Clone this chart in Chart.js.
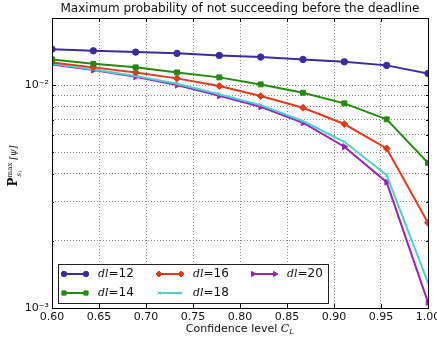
<!DOCTYPE html>
<html>
<head>
<meta charset="utf-8">
<script src="https://cdn.jsdelivr.net/npm/chart.js@4/dist/chart.umd.min.js"></script>
<style>
  html, body { margin: 0; padding: 0; background: #fff; }
  canvas { display: block; }
</style>
</head>
<body>
<canvas id="canvas" width="437" height="338"></canvas>
<script>
const confidenceLevels = [0.600, 0.644, 0.689, 0.733, 0.778, 0.822, 0.867, 0.911, 0.956, 1.000];
const dl12 = [0.01450, 0.01425, 0.01406, 0.01388, 0.01359, 0.01336, 0.01304, 0.01272, 0.01226, 0.01128];
const dl14 = [0.01304, 0.01246, 0.01201, 0.01140, 0.01083, 0.01007, 0.00924, 0.00828, 0.00702, 0.00448];
const dl16 = [0.01264, 0.01201, 0.01140, 0.01072, 0.00990, 0.00893, 0.00791, 0.00669, 0.00520, 0.00241];
const dl18 = [0.01246, 0.01176, 0.01098, 0.01013, 0.00909, 0.00813, 0.00690, 0.00557, 0.00395, 0.00130];
const dl20 = [0.01238, 0.01168, 0.01090, 0.01000, 0.00896, 0.00799, 0.00678, 0.00529, 0.00367, 0.00106];
const seriesNames = ['12', '14', '16', '18', '20'];
const xTicks = [0.60, 0.65, 0.70, 0.75, 0.80, 0.85, 0.90, 0.95, 1.00];
const yTicks = [0.001, 0.002, 0.003, 0.004, 0.005, 0.006, 0.007, 0.008, 0.009, 0.01, 0.02];
const yLabels = { 0.001: '10⁻³', 0.01: '10⁻²' };

const FONT = 'DejaVu Sans, sans-serif';
const styles = [
  { color: '#3b2c9e', pointStyle: 'circle', radius: 3.2, rotation: 0 },
  { color: '#248a10', pointStyle: 'rect', radius: 3.5, rotation: 0 },
  { color: '#e23a1c', pointStyle: 'rectRot', radius: 3.5, rotation: 0 },
  { color: '#4dd0d0', pointStyle: 'crossRot', radius: 2.5, rotation: 0 },
  { color: '#9c22b4', pointStyle: 'triangle', radius: 3.5, rotation: 90 }
];
const allSeries = [dl12, dl14, dl16, dl18, dl20];

const datasets = allSeries.map((vals, i) => ({
  label: 'dl=' + seriesNames[i],
  data: vals.map((v, k) => ({ x: confidenceLevels[k], y: v })),
  borderColor: styles[i].color,
  backgroundColor: styles[i].color,
  borderWidth: 2,
  pointStyle: styles[i].pointStyle,
  pointRadius: styles[i].radius,
  pointRotation: styles[i].rotation,
  pointBorderWidth: 1,
  tension: 0
}));

function drawMarker(ctx, st, x, y) {
  Chart.helpers.drawPoint(ctx, {
    pointStyle: st.pointStyle, radius: st.radius - 0.5, rotation: st.rotation, borderWidth: 1
  }, x, y);
}

const framePlugin = {
  id: 'frame',
  afterDraw(chart) {
    const { ctx, chartArea: a, scales } = chart;
    ctx.save();
    // inward tick marks
    ctx.strokeStyle = '#000';
    ctx.lineWidth = 1;
    ctx.beginPath();
    xTicks.forEach(t => {
      const px = Math.round(scales.x.getPixelForValue(t)) + 0.5;
      ctx.moveTo(px, a.bottom); ctx.lineTo(px, a.bottom - 4);
      ctx.moveTo(px, a.top); ctx.lineTo(px, a.top + 4);
    });
    yTicks.forEach(t => {
      const py = Math.round(scales.y.getPixelForValue(t)) + 0.5;
      const len = yLabels[t] ? 4 : 2;
      ctx.moveTo(a.left, py); ctx.lineTo(a.left + len, py);
      ctx.moveTo(a.right, py); ctx.lineTo(a.right - len, py);
    });
    ctx.stroke();
    ctx.strokeRect(Math.round(a.left) + 0.5, Math.round(a.top) + 0.5,
      Math.round(a.right - a.left), Math.round(a.bottom - a.top));

    // legend box
    const lx = 58, ly = 264, lw = 270, lh = 39;
    ctx.fillStyle = '#fff';
    ctx.fillRect(lx, ly, lw, lh);
    ctx.strokeStyle = '#222';
    ctx.strokeRect(lx + 0.5, ly + 0.5, lw, lh);
    const cols = [64, 159, 253];
    const rows = [274, 293];
    datasets.forEach((ds, i) => {
      const cx = cols[Math.floor(i / 2)];
      const cy = rows[i % 2];
      const st = styles[i];
      ctx.strokeStyle = st.color;
      ctx.fillStyle = st.color;
      ctx.lineWidth = 2;
      ctx.beginPath();
      ctx.moveTo(cx, cy); ctx.lineTo(cx + 22, cy);
      ctx.stroke();
      ctx.lineWidth = 1;
      drawMarker(ctx, st, cx, cy);
      drawMarker(ctx, st, cx + 22, cy);
      ctx.fillStyle = '#111';
      ctx.textBaseline = 'middle';
      ctx.textAlign = 'left';
      ctx.font = 'italic 11px "DejaVu Serif", serif';
      ctx.fillText('dl', cx + 34, cy);
      const w = ctx.measureText('dl').width;
      ctx.font = '12px ' + FONT;
      ctx.fillText('=' + seriesNames[i], cx + 34 + w, cy);
    });

    // title
    ctx.fillStyle = '#111';
    ctx.textAlign = 'center';
    ctx.textBaseline = 'middle';
    ctx.font = '12px ' + FONT;
    ctx.fillText('Maximum probability of not succeeding before the deadline', (a.left + a.right) / 2, 9);

    // x axis title
    ctx.font = '11px ' + FONT;
    const t1 = 'Confidence level ';
    const w1 = ctx.measureText(t1).width;
    ctx.font = 'italic 11px "DejaVu Serif", serif';
    const wc = ctx.measureText('C').width;
    const total = w1 + wc + 5;
    let sx = (a.left + a.right) / 2 - total / 2;
    ctx.textAlign = 'left';
    ctx.font = '11px ' + FONT;
    ctx.fillText(t1, sx, 329);
    ctx.font = 'italic 11px "DejaVu Serif", serif';
    ctx.fillText('C', sx + w1, 329);
    ctx.font = 'italic 7px "DejaVu Serif", serif';
    ctx.fillText('L', sx + w1 + wc, 332);

    // y axis title (rotated)
    ctx.translate(14, 166);
    ctx.rotate(-Math.PI / 2);
    ctx.textAlign = 'left';
    ctx.font = 'bold 12px "DejaVu Serif", serif';
    const pw = ctx.measureText('P').width;
    ctx.font = '7px "DejaVu Serif", serif';
    const mw = ctx.measureText('max').width;
    ctx.font = 'italic 9px "DejaVu Serif", serif';
    const bw = ctx.measureText('[ψ]').width;
    let ox = -(pw + mw + 3 + bw) / 2;
    ctx.font = 'bold 12px "DejaVu Serif", serif';
    ctx.fillText('P', ox, 0);
    ctx.font = '7px "DejaVu Serif", serif';
    ctx.fillText('max', ox + pw, -4);
    ctx.font = 'italic 7px "DejaVu Serif", serif';
    ctx.fillText('s', ox + pw + 1, 5);
    ctx.font = 'italic 5px "DejaVu Serif", serif';
    ctx.fillText('i', ox + pw + 5, 7);
    ctx.font = 'italic 9px "DejaVu Serif", serif';
    ctx.fillText('[ψ]', ox + pw + mw + 3, 0);
    ctx.restore();
  }
};

const ctx = document.getElementById('canvas').getContext('2d');
new Chart(ctx, {
  type: 'line',
  data: { datasets },
  options: {
    responsive: false,
    animation: false,
    layout: { padding: { top: 18, right: 9, left: 0, bottom: 0 } },
    plugins: { legend: { display: false }, title: { display: false }, tooltip: { enabled: false } },
    scales: {
      x: {
        type: 'linear',
        min: 0.6,
        max: 1.0,
        afterFit: s => { s.height = 30; s.paddingLeft = 0; s.paddingRight = 0; },
        afterBuildTicks: s => { s.ticks = xTicks.map(v => ({ value: v })); },
        ticks: {
          autoSkip: false,
          maxRotation: 0,
          padding: 3,
          color: '#111',
          font: { family: FONT, size: 11 },
          callback: v => v.toFixed(2)
        },
        grid: { color: '#8a8a8a', lineWidth: 1, drawTicks: false },
        border: { display: false, dash: [1, 2] }
      },
      y: {
        type: 'logarithmic',
        min: 0.001,
        max: 0.02,
        afterFit: s => { s.width = 52; s.paddingTop = 0; s.paddingBottom = 0; },
        afterBuildTicks: s => { s.ticks = yTicks.map(v => ({ value: v })); },
        ticks: {
          autoSkip: false,
          padding: 3,
          color: '#111',
          font: { family: FONT, size: 11 },
          callback: v => yLabels[v] || ''
        },
        grid: { color: '#8a8a8a', lineWidth: 1, drawTicks: false },
        border: { display: false, dash: [1, 2] }
      }
    }
  },
  plugins: [framePlugin]
});
</script>
</body>
</html>
